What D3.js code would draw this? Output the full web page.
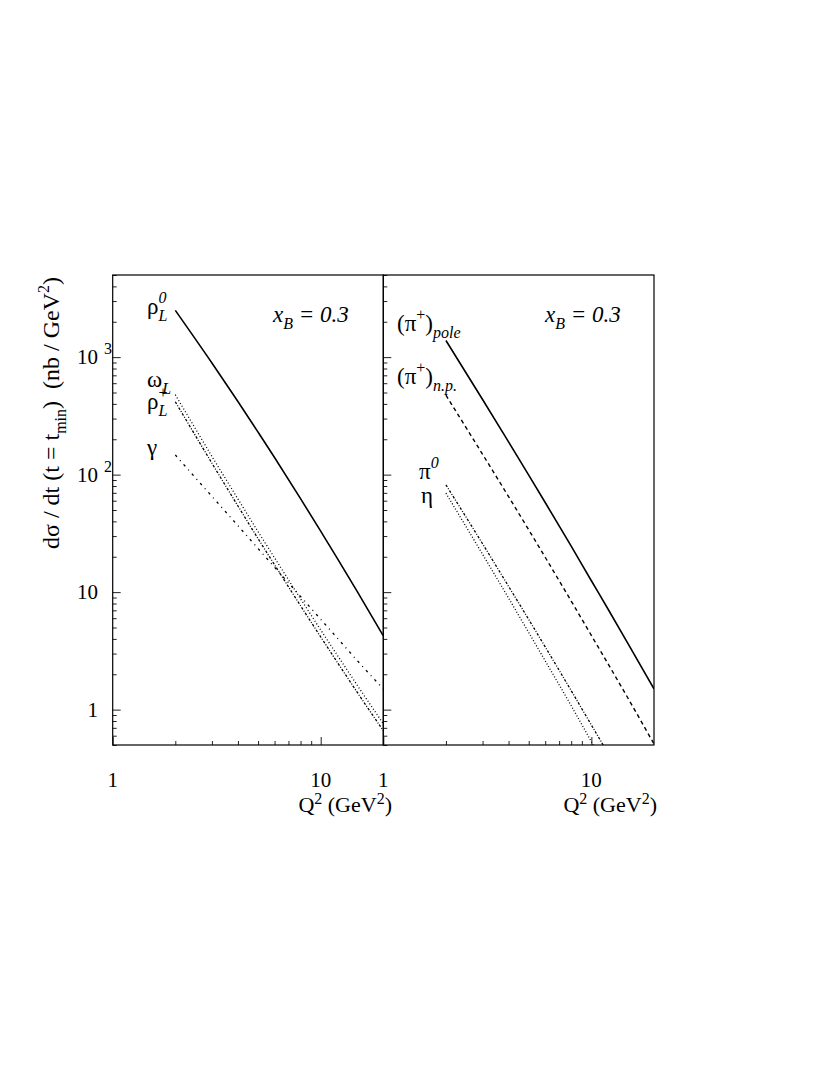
<!DOCTYPE html>
<html><head><meta charset="utf-8">
<script src="https://cdn.jsdelivr.net/npm/d3@7"></script>
<style>
body{margin:0;background:#fff}
svg{display:block}
text{font-family:"Liberation Serif","Times New Roman",serif;fill:#000}
</style>
</head><body>
<svg id="c" width="817" height="1090"></svg>
<script>
// ---------- data ----------
const Q2 = [2, 3, 4, 5, 6, 8, 10, 12, 15, 20];
// left panel (x_B = 0.3)
const rhoL0    = [2500, 891, 419, 230, 140, 62.5, 33, 19.5, 10.1, 4.24];
const omegaL   = [479, 143, 62.1, 32.7, 19.6, 8.79, 4.77, 2.92, 1.61, 0.759];
const rhoLplus = [417, 125, 54.1, 28.5, 17.1, 7.66, 4.16, 2.54, 1.40, 0.661];
const gammaV   = [147, 65.3, 36.8, 23.5, 16.3, 9.19, 5.88, 4.08, 2.61, 1.50];
// right panel (x_B = 0.3)
const piPole   = [1384, 436, 190, 99, 57.9, 24.6, 12.5, 7.22, 3.65, 1.50];
const piNP     = [474, 149, 65, 33.9, 19.8, 8.4, 4.28, 2.47, 1.25, 0.51];
const pi0      = [81.8, 25.8, 11.2, 5.85, 3.42, 1.45, 0.74, 0.427, 0.216, 0.089];
const etaV     = [69.5, 21.0, 8.90, 4.53, 2.60, 1.08, 0.534, 0.303, 0.15, 0.06];
// axes
const xDomain = [1, 20];
const yDomain = [0.5, 5000];
const xMajorTicks = [1, 10];
const xMajorLabels = ["1", "10"];
const xMinorTicks = [2, 3, 4, 5, 6, 7, 8, 9];
const yMajorTicks = [1, 10, 100, 1000];
const yTickBase = ["1", "10", "10", "10"];
const yTickExp  = ["", "", "2", "3"];
const yMinorTicks = [0.5,0.6,0.7,0.8,0.9,2,3,4,5,6,7,8,9,20,30,40,50,60,70,80,90,200,300,400,500,600,700,800,900,2000,3000,4000,5000];

// ---------- layout ----------
const plotTop = 275, plotBottom = 745;
const panels = [
  {x0: 112.7, x1: 383.3, titleEnd: 392,
   series: [
     {v: rhoL0, dash: null, w: 1.6},
     {v: omegaL, dash: "1,2.2", w: 1.3},
     {v: rhoLplus, dash: "2.5,1.6,1,1.6", w: 1.3},
     {v: gammaV, dash: "2.5,4.5,1,4.5", w: 1.3}
   ],
   labels: [
     {x: 147, y: 314, parts: [{t: "ρ"}, {t: "0", sup: 1, it: 1}, {t: "L", sub: 1, it: 1, stack: 1}]},
     {x: 147, y: 387, parts: [{t: "ω"}, {t: "L", sub: 1, it: 1}]},
     {x: 147, y: 409, parts: [{t: "ρ"}, {t: "+", sup: 1}, {t: "L", sub: 1, it: 1, stack: 1}]},
     {x: 147, y: 455, parts: [{t: "γ"}]},
     {x: 273, y: 322, parts: [{t: "x", it: 1}, {t: "B", sub: 1, it: 1}, {t: " = 0.3", it: 1}]}
   ]},
  {x0: 383.3, x1: 654, titleEnd: 657,
   series: [
     {v: piPole, dash: null, w: 1.6},
     {v: piNP, dash: "4,3.3", w: 1.4},
     {v: pi0, dash: "2.5,1.6,1,1.6", w: 1.3},
     {v: etaV, dash: "1,2", w: 1.3}
   ],
   labels: [
     {x: 397, y: 331, parts: [{t: "(π"}, {t: "+", sup: 1}, {t: ")"}, {t: "pole", sub: 1, it: 1}]},
     {x: 397, y: 384, parts: [{t: "(π"}, {t: "+", sup: 1}, {t: ")"}, {t: "n.p.", sub: 1, it: 1}]},
     {x: 419, y: 479, parts: [{t: "π"}, {t: "0", sup: 1, it: 1}]},
     {x: 421, y: 503, parts: [{t: "η"}]},
     {x: 545, y: 322, parts: [{t: "x", it: 1}, {t: "B", sub: 1, it: 1}, {t: " = 0.3", it: 1}]}
   ]}
];

const svg = d3.select("#c");
const y = d3.scaleLog().domain(yDomain).range([plotBottom, plotTop]);
const FS = 23, FSs = 16;

function drawLabel(g, L) {
  const t = g.append("text").attr("x", L.x).attr("y", L.y).style("font-size", FS + "px")
    .attr("xml:space", "preserve");
  let level = 0, lastW = 0;
  L.parts.forEach(p => {
    const s = t.append("tspan").text(p.t);
    let target = 0;
    if (p.sup) target = -11;
    else if (p.sub) target = 7;
    s.style("font-size", (p.sup || p.sub ? FSs : FS) + "px");
    if (p.it) s.style("font-style", "italic");
    s.attr("dy", target - level);
    level = target;
    if (p.stack) s.attr("dx", -lastW);
    lastW = s.node().getComputedTextLength();
  });
}

panels.forEach(P => {
  const x = d3.scaleLog().domain(xDomain).range([P.x0, P.x1]);
  const g = svg.append("g");
  const id = "clip" + Math.round(P.x0);
  svg.append("clipPath").attr("id", id).append("rect")
    .attr("x", P.x0).attr("y", plotTop).attr("width", P.x1 - P.x0).attr("height", plotBottom - plotTop);

  // bottom axis ticks (inward)
  const axB = g.append("g").attr("transform", `translate(0,${plotBottom})`);
  axB.append("g").call(d3.axisBottom(x).tickValues(xMinorTicks).tickSize(-4).tickFormat(""));
  axB.append("g").call(d3.axisBottom(x).tickValues(xMajorTicks).tickSize(-8).tickFormat(""));
  // left axis ticks (inward)
  const axL = g.append("g").attr("transform", `translate(${P.x0},0)`);
  axL.append("g").call(d3.axisRight(y).tickValues(yMinorTicks).tickSize(4).tickFormat(""));
  axL.append("g").call(d3.axisRight(y).tickValues(yMajorTicks).tickSize(8).tickFormat(""));
  g.selectAll(".domain").remove();
  g.selectAll(".tick line").attr("stroke", "#222").attr("stroke-width", 1);

  // x tick labels
  xMajorTicks.forEach((v, i) => {
    g.append("text").attr("x", x(v)).attr("y", 787).attr("text-anchor", "middle")
      .style("font-size", "21px").text(xMajorLabels[i]);
  });
  // x title
  const xt = g.append("text").attr("x", P.titleEnd).attr("y", 812).attr("text-anchor", "end")
    .style("font-size", "22px").attr("xml:space", "preserve");
  xt.append("tspan").text("Q");
  xt.append("tspan").attr("dy", -8).style("font-size", FSs + "px").text("2");
  xt.append("tspan").attr("dy", 8).text(" (GeV");
  xt.append("tspan").attr("dy", -8).style("font-size", FSs + "px").text("2");
  xt.append("tspan").attr("dy", 8).text(")");

  // curves
  const line = d3.line().x((d, i) => x(Q2[i])).y(d => y(d)).curve(d3.curveMonotoneX);
  P.series.forEach(s => {
    g.append("path").attr("d", line(s.v)).attr("fill", "none").attr("stroke", "#000")
      .attr("stroke-width", s.w).attr("stroke-dasharray", s.dash)
      .attr("clip-path", `url(#${id})`);
  });

  // frame
  g.append("rect").attr("x", P.x0).attr("y", plotTop).attr("width", P.x1 - P.x0).attr("height", plotBottom - plotTop)
    .attr("fill", "none").attr("stroke", "#000").attr("stroke-width", 1.2);

  P.labels.forEach(L => drawLabel(g, L));
});

// y tick labels (left panel only)
yMajorTicks.forEach((v, i) => {
  svg.append("text").attr("x", 98).attr("y", y(v) + 7).attr("text-anchor", "end")
    .style("font-size", "21px").text(yTickBase[i]);
  if (yTickExp[i]) {
    svg.append("text").attr("x", 104).attr("y", y(v) - 3).style("font-size", FSs + "px").text(yTickExp[i]);
  }
});

// y title
const yt = svg.append("text").attr("transform", "translate(59,277) rotate(-90)")
  .attr("text-anchor", "end").style("font-size", "24px").attr("xml:space", "preserve");
yt.append("tspan").text("dσ / dt (t = t");
yt.append("tspan").attr("dy", 7).style("font-size", "16px").text("min");
yt.append("tspan").attr("dy", -7).text(")\u00a0\u00a0(nb / GeV");
yt.append("tspan").attr("dy", -10).style("font-size", "16px").text("2");
yt.append("tspan").attr("dy", 10).text(")");
</script>
</body></html>
